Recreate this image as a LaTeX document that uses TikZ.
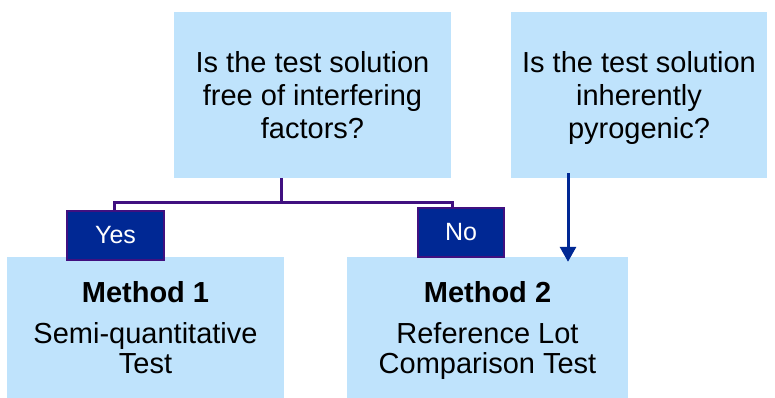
\documentclass[tikz,border=0pt]{standalone}
\usepackage{fontspec}
\setmainfont{Liberation Sans}
\usetikzlibrary{arrows.meta,calc}
\definecolor{paleblue}{RGB}{191,227,252}
\definecolor{darkblue}{RGB}{0,40,148}
\definecolor{darkpurple}{RGB}{64,16,128}
\tikzset{
  question/.style={fill=paleblue,inner sep=0pt,text depth=0pt,align=center,font=\fontsize{29}{33}\selectfont},
  method/.style={fill=paleblue,inner sep=0pt,text depth=0pt,align=center,font=\fontsize{29}{30}\selectfont},
  answer/.style={fill=darkblue,draw=darkpurple,line width=1.5pt,inner sep=0pt,text=white,font=\fontsize{25}{25}\selectfont},
  branch/.style={draw=darkpurple,line width=3pt},
  flow/.style={draw=darkblue,line width=3pt,-{Triangle[width=16pt,length=15pt]}}
}
\begin{document}
\begin{tikzpicture}[x=1pt,y=-1pt]
\useasboundingbox (0,0) rectangle (775,398);
% questions
\node[question,minimum width=277pt,minimum height=166pt] (Q1) at (312.5,95) {Is the test solution\\free of interfering\\factors?};
\node[question,minimum width=256pt,minimum height=166pt] (Q2) at (639,95) {Is the test solution\\inherently\\pyrogenic?};
% methods
\node[method,minimum width=277pt,minimum height=141pt] (M1) at (145.5,327.5) {\textbf{Method 1}\\[11pt]Semi-quantitative\\Test};
\node[method,minimum width=281pt,minimum height=141pt] (M2) at (487.5,327.5) {\textbf{Method 2}\\[11pt]Reference Lot\\Comparison Test};
% answers
\coordinate (split) at (281,202);
\coordinate (down) at (568,0);
\draw[branch] (split |- Q1.south) -- (split);
\draw[branch] (114,211) |- (split) -| (452,208);
\node[answer,minimum width=97pt,minimum height=49pt] (yes) at (115.5,235.5) {Yes};
\node[answer,minimum width=86pt,minimum height=49pt] (no) at (461,232.5) {No};
\draw[flow] ([yshift=5pt]Q2.south -| down) -- ([yshift=-5pt]M2.north -| down);
\end{tikzpicture}
\end{document}
